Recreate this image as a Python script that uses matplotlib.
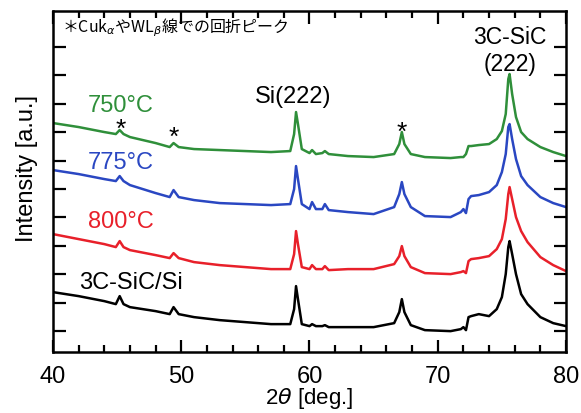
import numpy as np
import matplotlib
matplotlib.use('Agg')
from matplotlib import pyplot as plt
from matplotlib.ticker import MultipleLocator

plt.rcParams['font.family'] = ['Liberation Sans', 'DejaVu Sans']
plt.rcParams['mathtext.fontset'] = 'dejavusans'

# 2theta grid (deg.) shared by all scans
two_theta = [40, 42, 44, 44.9, 45.2, 45.5, 46, 48, 49.1, 49.4, 49.8, 51, 53, 55, 57,
             58.5, 58.8, 58.95, 59.1, 59.4, 60.0, 60.2, 60.5, 61.0, 61.2, 61.5, 63, 65,
             66.6, 67.0, 67.2, 67.4, 67.9, 69, 71, 71.8, 72.0, 72.2, 72.4, 72.6, 73.2,
             74, 74.6, 75.0, 75.3, 75.5, 75.6, 75.8, 76.1, 76.5, 77, 78, 79, 80]

# intensities [a.u.], already offset for stacking
i_750 = [229, 225, 220, 218, 222, 218, 215, 209, 205, 209, 205, 203, 202, 201, 200,
         201, 218, 240, 228, 203, 199, 202, 198, 199, 201, 198, 196, 195,
         198, 208, 220, 208, 198, 195, 194, 195, 195, 198, 206, 206, 207,
         208, 213, 221, 238, 273, 278, 258, 235, 220, 213, 205, 200, 196]
i_775 = [182, 178, 173, 171, 176, 171, 167, 159, 155, 162, 155, 152, 149, 148, 147,
         148, 163, 186, 173, 148, 143, 150, 143, 143, 148, 142, 140, 138,
         145, 158, 170, 158, 145, 136, 135, 140, 143, 139, 153, 156, 157,
         160, 167, 180, 198, 225, 228, 213, 193, 176, 167, 155, 149, 145]
i_800 = [118, 113, 108, 105, 111, 105, 102, 97, 94, 99, 94, 90, 87, 85, 83,
         83, 98, 121, 108, 85, 83, 87, 83, 83, 86, 82, 83, 83,
         88, 96, 106, 96, 85, 79, 78, 80, 81, 79, 91, 93, 94,
         96, 103, 113, 133, 158, 165, 153, 135, 121, 110, 95, 87, 81]
i_ref = [60, 56, 51, 48, 56, 48, 45, 41, 38, 45, 38, 35, 32, 30, 28,
         28, 43, 66, 53, 28, 26, 28, 26, 26, 27, 25, 25, 25,
         29, 40, 53, 40, 27, 22, 21, 23, 25, 22, 35, 36, 38,
         36, 43, 55, 78, 105, 111, 98, 78, 58, 48, 35, 29, 26]

labels = ['750°C', '775°C', '800°C', '3C-SiC/Si']
colors = ['#2f8f3a', '#2a47c2', '#e8202a', 'black']
series = [i_750, i_775, i_800, i_ref]
label_y = [247, 190, 131, 70]
star_x = [45.3, 49.4, 67.2]
star_y = [230, 222, 227]

fig = plt.figure(figsize=(5.81, 4.14), dpi=100)
ax = fig.add_axes([0.0912, 0.147, 0.883, 0.824])

for y, c in zip(series, colors):
    ax.plot(two_theta, y, color=c, lw=1.8)

for lab, c, ly in zip(labels, colors, label_y):
    x0 = 42.0 if lab.startswith('3C') else 42.7
    ax.text(x0, ly, lab, color=c, fontsize=17, ha='left', va='center')

for sx, sy in zip(star_x, star_y):
    ax.text(sx, sy - 7, '*', fontsize=19, ha='center', va='center')

ax.text(58.7, 256, 'Si(222)', fontsize=17, ha='center', va='center')
ax.text(75.6, 302, '3C-SiC\n(222)', fontsize=16.5, ha='center', va='center',
        linespacing=1.2)

ax.text(0.018, 0.955, r'＊Cuk$_\alpha$やWL$_\beta$線での回折ピーク', transform=ax.transAxes,
        fontsize=11.5, family=['Noto Sans CJK JP', 'DejaVu Sans'], ha='left', va='center')

ax.set_xlim(40, 80)
ax.set_ylim(0, 341)
ax.xaxis.set_major_locator(MultipleLocator(10))
ax.xaxis.set_minor_locator(MultipleLocator(2))
ax.set_yticks(np.arange(21, 320, 28.4))
ax.tick_params(which='both', direction='in', top=True, right=True, width=1.6)
ax.tick_params(which='major', length=9, labelsize=17, pad=9)
ax.tick_params(which='minor', length=5)
ax.set_yticklabels([])
for s in ax.spines.values():
    s.set_linewidth(1.8)

ax.set_xlabel(r'2$\theta$ [deg.]', fontsize=16)
ax.xaxis.set_label_coords(0.5, -0.097)
ax.set_ylabel('Intensity [a.u.]', fontsize=17)
ax.yaxis.set_label_coords(-0.03, 0.54)

plt.savefig('out.png', dpi=100)
